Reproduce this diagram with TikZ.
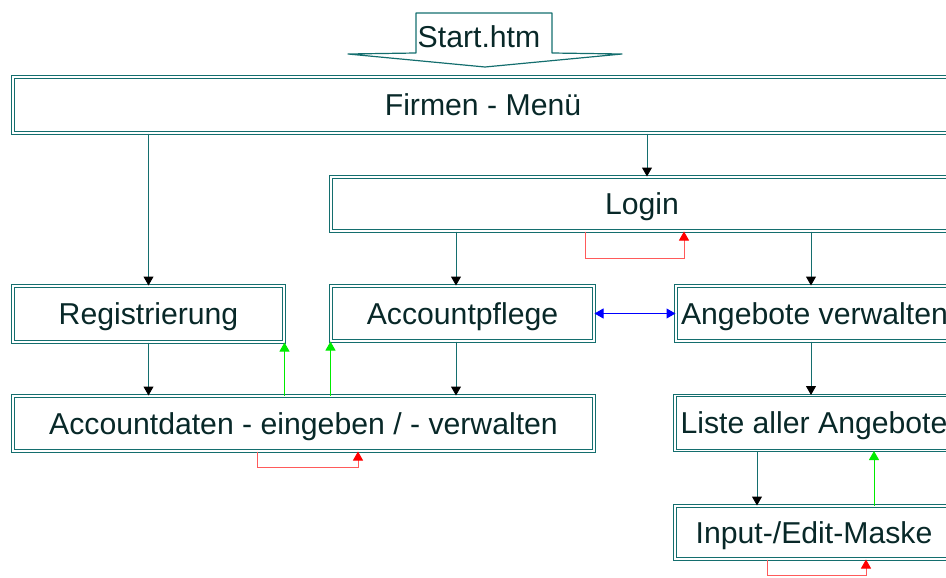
\documentclass[tikz,border=0pt]{standalone}
\usepackage{fontspec}
\setmainfont{Liberation Sans}
\usetikzlibrary{arrows.meta}
\definecolor{frame}{RGB}{20,110,110}
\definecolor{ink}{RGB}{8,40,40}
\definecolor{loopred}{RGB}{255,90,90}
\definecolor{backgreen}{RGB}{0,235,0}
\definecolor{linkblue}{RGB}{0,0,255}
\begin{document}
\begin{tikzpicture}[x=1pt,y=-1pt,
  label font/.style={font=\fontsize{30.2}{31}\selectfont, text=ink},
  page/.style={draw=frame, double=white, double distance=1.8pt, line width=1pt,
    rectangle, inner sep=0pt, text height=21pt, text depth=0pt, label font},
  flow/.style={draw=frame, line width=1pt,
    -{Triangle[width=10pt,length=9pt,fill=black,color=black]}},
  back/.style={draw=backgreen, line width=1pt,
    -{Triangle[width=10pt,length=9pt,fill=backgreen,color=backgreen]}},
  self/.style={draw=loopred, line width=1pt,
    -{Triangle[width=10pt,length=9pt,fill=red,color=red]}},
  link/.style={draw=linkblue, line width=1pt,
    {Triangle[width=10pt,length=9pt]}-{Triangle[width=10pt,length=9pt]}}
]
\useasboundingbox (0,0) rectangle (946,578);
\clip (0,0) rectangle (946,578);

% entry page: down-pointing banner
\node[label font, inner sep=0pt, text height=21pt, text depth=0pt] (start) at (479,37) {Start.htm};
\draw[frame, line width=1.2pt, line join=round]
  (416,13) -- (552,13) -- (552,53) -- (622,54) -- (485,67) -- (348,54) -- (416,53) -- cycle;

% pages
\node[page, minimum width=940pt, minimum height=56pt] (menu)     at (483,105)   {Firmen - Menü};
\node[page, minimum width=622pt, minimum height=54pt] (login)    at (642,204)   {Login};
\node[page, minimum width=271pt, minimum height=56pt] (reg)      at (148.5,314) {Registrierung};
\node[page, minimum width=263pt, minimum height=55pt] (pflege)   at (462.5,313.5) {Accountpflege};
\node[page, minimum width=277pt, minimum height=55pt] (angebote) at (814.5,313.5) {Angebote verwalten};
\node[page, minimum width=581pt, minimum height=55pt] (daten)    at (303.5,423.5) {Accountdaten - eingeben / - verwalten};
\node[page, minimum width=278pt, minimum height=55pt] (liste)    at (814,423)   {Liste aller Angebote};
\node[page, minimum width=278pt, minimum height=53pt] (maske)    at (814,532.5) {Input-/Edit-Maske};

% forward navigation
\draw[flow] (reg.north |- menu.south) -- (reg.north);
\draw[flow] ([xshift=5pt]login.north |- menu.south) -- ([xshift=5pt]login.north);
\draw[flow] ([xshift=-6.5pt]pflege.north |- login.south) -- ([xshift=-6.5pt]pflege.north);
\draw[flow] ([xshift=-3.5pt]angebote.north |- login.south) -- ([xshift=-3.5pt]angebote.north);
\draw[flow] (reg.south) -- (reg.south |- daten.north);
\draw[flow] ([xshift=-6.5pt]pflege.south) -- ([xshift=-6.5pt]pflege.south |- daten.north);
\draw[flow] ([xshift=-3.5pt]angebote.south) -- ([xshift=-3.5pt]angebote.south |- liste.north);
\draw[flow] ([xshift=-57pt]liste.south) -- ([xshift=-57pt]liste.south |- maske.north);

% return links
\draw[back] (reg.south east |- daten.north) -- (reg.south east);
\draw[back] (pflege.south west |- daten.north) -- (pflege.south west);
\draw[back] ([xshift=60pt]maske.north) -- ([xshift=60pt]maske.north |- liste.south);

% cross link
\draw[link] (pflege.east) -- (angebote.west);

% self reloads
\draw[self] ([xshift=-57pt]login.south) -- ++(0,27) -| ([xshift=42pt]login.south);
\draw[self] ([xshift=-46.5pt]daten.south) -- ++(0,16) -| ([xshift=54.5pt]daten.south);
\draw[self] ([xshift=-47pt]maske.south) -- ++(0,16) -| ([xshift=52pt]maske.south);
\end{tikzpicture}
\end{document}
